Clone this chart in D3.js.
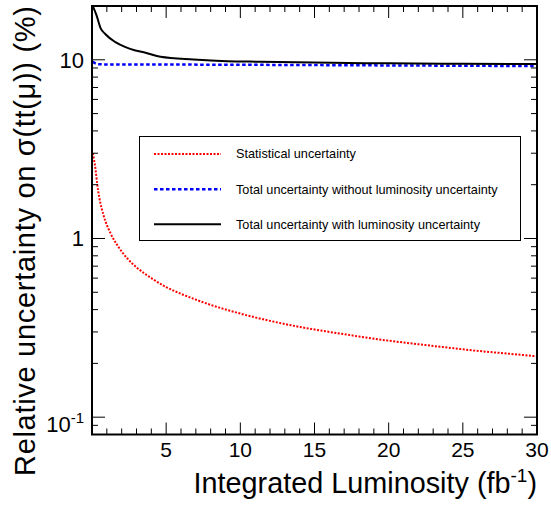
<!DOCTYPE html>
<html><head><meta charset="utf-8">
<script src="https://cdn.jsdelivr.net/npm/d3@7"></script>
<style>body{margin:0;background:#fff}svg{display:block}text{font-family:"Liberation Sans",Arial,Helvetica,sans-serif}</style>
</head><body>
<svg id="c" width="551" height="505"></svg>
<script>
// Data: [luminosity (fb^-1), relative uncertainty (%)]
const statLumi  = [0.05,0.24,0.35,0.5,0.8,1.25,1.75,2.37,3,4,5,6,7,8,10,12,14,16,18,20,22,24,26,28,30];
const statValue = [3.0,2.43,2.02,1.68,1.33,1.07,0.905,0.775,0.69,0.6,0.535,0.49,0.455,0.425,0.38,0.346,0.32,0.3,0.283,0.268,0.256,0.245,0.235,0.227,0.219];
const noLumiLumi  = [0.05,0.4,1,3,6,10,15,20,25,30];
const noLumiValue = [9.75,9.45,9.42,9.41,9.4,9.38,9.34,9.3,9.26,9.22];
const withLumiLumi  = [0.05,0.3,0.57,0.91,1.58,2.26,2.93,3.61,4.62,6.84,9.11,11.35,15,20,25,30];
const withLumiValue = [20.0,17.8,15.1,13.9,12.55,11.77,11.27,10.95,10.39,10.04,9.82,9.75,9.65,9.55,9.5,9.46];
const xTickValues = [5,10,15,20,25,30];
const yMajorTicks = [0.1,1,10];
const legendLabels = ["Statistical uncertainty","Total uncertainty without luminosity uncertainty","Total uncertainty with luminosity uncertainty"];

const svg = d3.select("#c");
const L = 92, R = 537, T = 6, B = 434.5;
const x = d3.scaleLinear().domain([0,30]).range([L,R]);
const y = d3.scaleLog().domain([0.08,20]).range([B,T]);

svg.append("clipPath").attr("id","clip").append("rect").attr("x",L).attr("y",T).attr("width",R-L).attr("height",B-T);

const series = [
  {xs:statLumi, ys:statValue, color:"#ff0000", w:2, dash:"2,1.5"},
  {xs:noLumiLumi, ys:noLumiValue, color:"#0000ff", w:2.5, dash:"3.5,2.5"},
  {xs:withLumiLumi, ys:withLumiValue, color:"#000000", w:2, dash:null}
];
const line = d3.line().x(d=>x(d[0])).y(d=>y(d[1])).curve(d3.curveMonotoneX);
const g = svg.append("g").attr("clip-path","url(#clip)");
series.forEach(s=>{
  const pts = s.xs.map((v,i)=>[v,s.ys[i]]);
  g.append("path").attr("d",line(pts)).attr("fill","none").attr("stroke",s.color)
   .attr("stroke-width",s.w).attr("stroke-dasharray",s.dash);
});

// ticks
const ticks = svg.append("g").attr("stroke","#000").attr("stroke-width",1);
const xMinor = d3.range(1,30);
xMinor.forEach(v=>{
  const major = v%5===0, len = major?12:6;
  ticks.append("line").attr("x1",x(v)).attr("x2",x(v)).attr("y1",B).attr("y2",B-len);
  ticks.append("line").attr("x1",x(v)).attr("x2",x(v)).attr("y1",T).attr("y2",T+len);
});
const yTicksAll = [];
[0.01,0.1,1,10].forEach(d=>{for(let k=1;k<10;k++){const v=d*k; if(v>=0.08&&v<=20) yTicksAll.push(v);}});
yTicksAll.forEach(v=>{
  const major = yMajorTicks.some(m=>Math.abs(m-v)<1e-9), len = major?13:6;
  ticks.append("line").attr("x1",L).attr("x2",L+len).attr("y1",y(v)).attr("y2",y(v));
  ticks.append("line").attr("x1",R).attr("x2",R-len).attr("y1",y(v)).attr("y2",y(v));
});

// frame
svg.append("rect").attr("x",L).attr("y",T).attr("width",R-L).attr("height",B-T)
  .attr("fill","none").attr("stroke","#000").attr("stroke-width",2);

// x tick labels
xTickValues.forEach(v=>{
  svg.append("text").attr("x",x(v)).attr("y",457).attr("text-anchor","middle")
    .attr("font-size",21).text(v);
});
// y tick labels
svg.append("text").attr("x",84).attr("y",y(10)+8).attr("text-anchor","end").attr("font-size",22).text("10");
svg.append("text").attr("x",84).attr("y",y(1)+8).attr("text-anchor","end").attr("font-size",22).text("1");
const t01 = svg.append("text").attr("x",84).attr("y",432).attr("text-anchor","end").attr("font-size",22);
t01.append("tspan").text("10");
t01.append("tspan").attr("font-size",15).attr("dy",-9).text("-1");

// axis titles
const xt = svg.append("text").attr("x",537).attr("y",493).attr("text-anchor","end").attr("font-size",28.8);
xt.append("tspan").text("Integrated Luminosity (fb");
xt.append("tspan").attr("font-size",19).attr("dy",-11).text("-1");
xt.append("tspan").attr("dy",11).text(")");

svg.append("text").attr("transform","translate(35,6) rotate(-90)").attr("text-anchor","end")
  .attr("font-size",29).attr("textLength",470).attr("lengthAdjust","spacing")
  .text("Relative uncertainty on σ(tt(μ)) (%)");

// legend
const lg = svg.append("g");
lg.append("rect").attr("x",139.5).attr("y",136.5).attr("width",381).attr("height",104)
  .attr("fill","#fff").attr("stroke","#000").attr("stroke-width",1);
const ly = [154,189.3,224.3];
series.forEach((s,i)=>{
  lg.append("line").attr("x1",154).attr("x2",221).attr("y1",ly[i]).attr("y2",ly[i])
    .attr("stroke",s.color).attr("stroke-width",s.w).attr("stroke-dasharray",s.dash);
  lg.append("text").attr("x",236).attr("y",ly[i]+4.3).attr("font-size",12.7).text(legendLabels[i]);
});
</script>
</body></html>
